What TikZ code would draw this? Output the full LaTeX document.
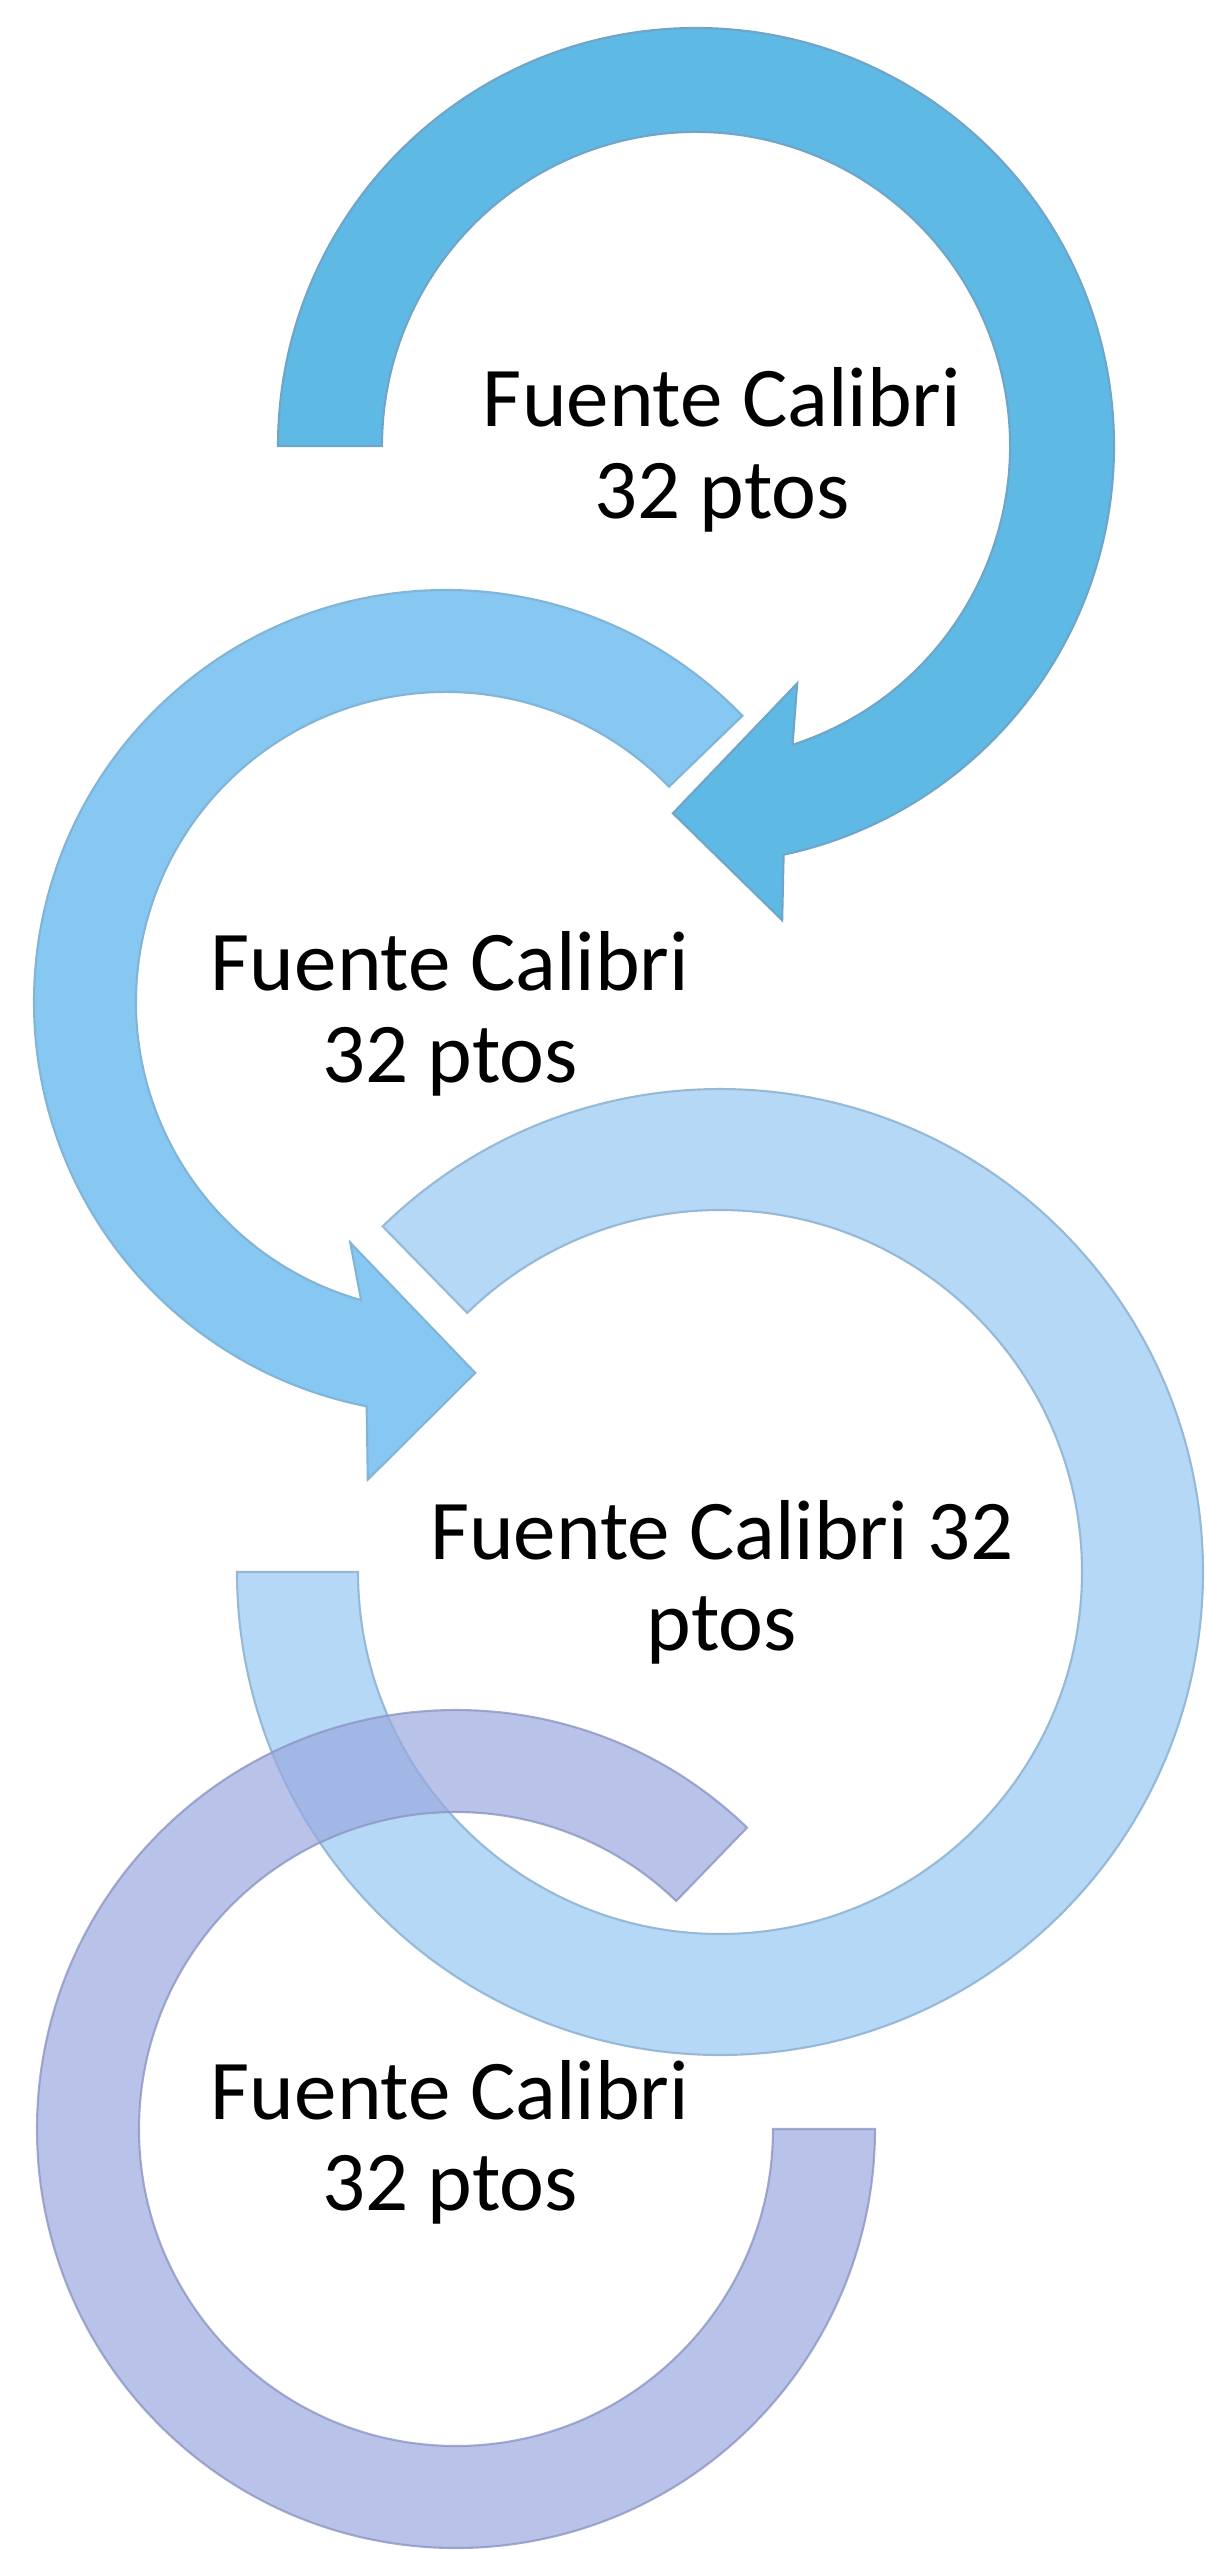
\documentclass[tikz,border=0pt]{standalone}
\usepackage{fontspec}
\setmainfont{Carlito}
\definecolor{arcA}{RGB}{94,185,228}
\definecolor{arcB}{RGB}{134,200,241}
\definecolor{arcC}{RGB}{182,216,247}
\definecolor{arcD}{RGB}{155,169,224}
\definecolor{edgeA}{RGB}{110,165,200}
\definecolor{edgeB}{RGB}{130,180,215}
\definecolor{edgeC}{RGB}{150,185,215}
\definecolor{edgeD}{RGB}{140,150,195}

\begin{document}
\begin{tikzpicture}[
  txt/.style={font=\fontsize{24.2}{26}\selectfont, align=center, text=black},
  arcone/.style={fill=arcA, draw=edgeA, line width=0.6pt, line join=miter},
  arctwo/.style={fill=arcB, draw=edgeB, line width=0.6pt, line join=miter},
  arcthree/.style={fill=arcC, draw=edgeC, line width=0.6pt},
  arcfour/.style={fill=arcD, fill opacity=0.7, draw=edgeD, draw opacity=0.8, line width=0.6pt}
]
\useasboundingbox (0,0) rectangle (12.06,-25.5);

\begin{scope}[shift={(6.96,-4.46)}]
\path[arcone] (180:4.18) arc[start angle=180, end angle=-77.9, radius=4.18]
  -- (-79.7:4.82) -- (-93.6:3.68) -- (-66.9:2.58) -- (-72.1:3.14)
  arc[start angle=-72.1, end angle=180, radius=3.14] -- cycle;
\end{scope}

\begin{scope}[shift={(4.46,-10.02)}]
\path[arctwo] (44:4.12) arc[start angle=44, end angle=258.9, radius=4.12]
  -- (260.7:4.84) -- (274.5:3.72) -- (248.3:2.59) -- (254.1:3.10)
  arc[start angle=254.1, end angle=44, radius=3.10] -- cycle;
\end{scope}

\begin{scope}[shift={(7.20,-15.72)}]
\path[arcthree] (134.3:4.83) arc[start angle=134.3, end angle=-180, radius=4.83]
  -- (-180:3.62) arc[start angle=-180, end angle=134.3, radius=3.62] -- cycle;
\end{scope}

\begin{scope}[shift={(4.56,-21.29)}]
\path[arcfour] (46:4.19) arc[start angle=46, end angle=360, radius=4.19]
  -- (0:3.17) arc[start angle=360, end angle=46, radius=3.17] -- cycle;
\end{scope}

\node[txt] (t1) at (7.22,-4.50) {Fuente Calibri\\32 ptos};
\node[txt] (t2) at (4.50,-10.14) {Fuente Calibri\\32 ptos};
\node[txt] (t3) at (7.22,-15.82) {Fuente Calibri 32\\ptos};
\node[txt] (t4) at (4.50,-21.42) {Fuente Calibri\\32 ptos};

\end{tikzpicture}
\end{document}
